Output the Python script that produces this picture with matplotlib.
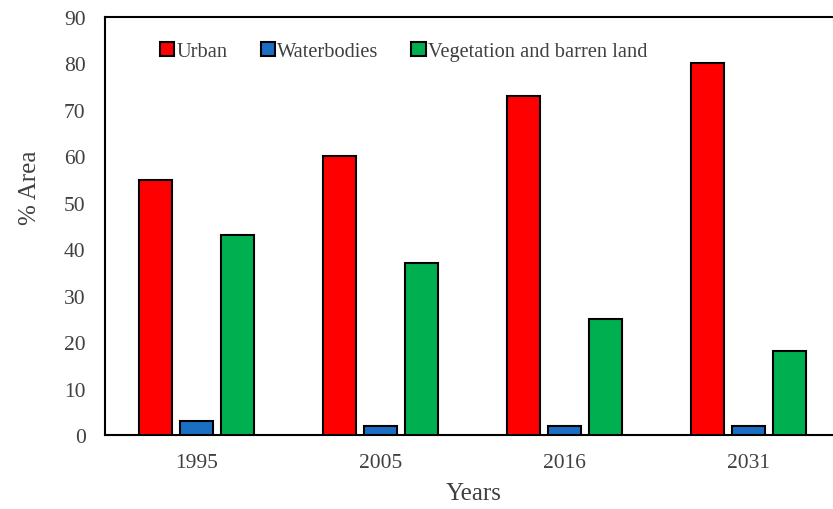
import matplotlib
matplotlib.use("Agg")
import matplotlib.pyplot as plt
import numpy as np

years = ["1995", "2005", "2016", "2031"]
urban = [55, 60, 73, 80]
waterbodies = [3, 2, 2, 2]
vegetation = [43, 37, 25, 18]
series_names = ["Urban", "Waterbodies", "Vegetation and barren land"]
colors = ["#FF0000", "#1A6FC4", "#00B050"]

plt.rcParams['font.family'] = ['Liberation Serif', 'DejaVu Serif']

fig = plt.figure(figsize=(8.33, 5.10), dpi=100)
fig.patch.set_facecolor("white")
ax = fig.add_axes([105/833, 74/510, 735/833, 418/510])

x = np.arange(len(years))
w = 0.18
off = 0.223
for i, (vals, name, c) in enumerate(zip([urban, waterbodies, vegetation], series_names, colors)):
    ax.bar(x + (i - 1) * off, vals, width=w, color=c, edgecolor="black", linewidth=1.5, label=name, zorder=3)

ax.set_xlim(-0.5, 3.5)
ax.set_ylim(0, 90)
ax.set_yticks(np.arange(0, 91, 10))
ax.set_xticks(x)
ax.set_xticklabels(years)
ax.tick_params(axis="both", length=0, labelsize=15.5, colors="#404040")
ax.tick_params(axis="y", pad=14)
ax.tick_params(axis="x", pad=13)
for s in ax.spines.values():
    s.set_linewidth(1.5)
    s.set_color("black")
ax.spines["right"].set_visible(False)

ax.set_ylabel("% Area", fontsize=18, color="#404040")
ax.yaxis.set_label_coords(-0.087, 0.593)
ax.set_xlabel("Years", fontsize=18, color="#404040")
ax.xaxis.set_label_coords(0.502, -0.112)

leg = ax.legend(loc="upper left", bbox_to_anchor=(0.05, 0.985), ncol=3, frameon=False,
                fontsize=14.7, handlelength=0.7, handleheight=0.7, handletextpad=0.12,
                columnspacing=1.6, labelcolor="#404040")

fig.savefig("out.png", dpi=100)
